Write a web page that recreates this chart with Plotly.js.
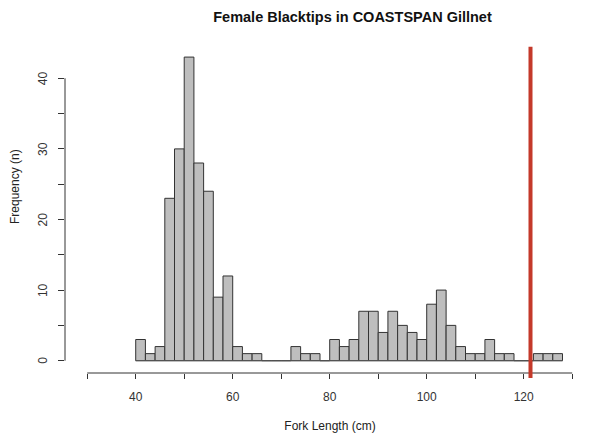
<!DOCTYPE html>
<html>
<head>
<meta charset="utf-8">
<script src="https://cdn.plot.ly/plotly-3.0.1.min.js"></script>
<style>html,body{margin:0;padding:0;background:#fff;}#chart{width:597px;height:439px;}</style>
</head>
<body>
<div id="chart"></div>
<script>
// Histogram bins (left edge of each 2-cm bin) and counts
const binLeft = [40,42,44,46,48,50,52,54,56,58,60,62,64,66,68,70,72,74,76,78,80,82,84,86,88,90,92,94,96,98,100,102,104,106,108,110,112,114,116,118,120,122,124,126];
const counts  = [3,1,2,23,30,43,28,24,9,12,2,1,1,0,0,0,2,1,1,0,3,2,3,7,7,4,7,5,4,3,8,10,5,2,1,1,3,1,1,0,0,1,1,1];
const binWidth = 2;
const cutoff = 121.4; // red reference line
const xTickVals = [30,40,50,60,70,80,90,100,110,120,130];
const xTickText = ['', '40', '', '60', '', '80', '', '100', '', '120', ''];
const yTickVals = [0,5,10,15,20,25,30,35,40];
const yTickText = ['0','','10','','20','','30','','40'];

const W = 597, H = 439;
const mL = 65, mR = 2, mT = 40, mB = 59;
const plotH = H - mT - mB;
const xAxisPos = (380 - 373) / plotH;

const lastEdge = binLeft[binLeft.length-1] + binWidth;

const traces = [
  {
    type: 'scatter', mode: 'lines',
    x: [binLeft[0], lastEdge], y: [0, 0],
    line: {color: '#555555', width: 1},
    hoverinfo: 'skip', showlegend: false
  },
  {
    type: 'bar',
    x: binLeft.map(v => v + binWidth/2),
    y: counts,
    width: binWidth,
    marker: {color: '#bebebe', line: {color: '#333333', width: 1}},
    showlegend: false
  }
];

// y tick labels drawn as rotated text next to the axis (R style)
const yLabelAnns = yTickVals.map((v, i) => ({
  xref: 'paper', yref: 'y', x: 0, y: v,
  xshift: -22, text: yTickText[i], showarrow: false, textangle: -90,
  xanchor: 'center', yanchor: 'middle',
  font: {size: 12, color: '#333333'}
})).filter(a => a.text !== '');

const layout = {
  width: W, height: H,
  margin: {l: mL, r: mR, t: mT, b: mB, pad: 0},
  paper_bgcolor: '#ffffff', plot_bgcolor: '#ffffff',
  font: {family: 'Liberation Sans, Arial, sans-serif', size: 12, color: '#222222'},
  title: {
    text: '<b>Female Blacktips in COASTSPAN Gillnet</b>',
    font: {size: 14.5, color: '#111111'},
    x: 352.5 / W, xanchor: 'center', xref: 'container',
    y: 1 - 17 / H, yanchor: 'middle', yref: 'container'
  },
  bargap: 0,
  xaxis: {
    range: [25.42, 134.70],
    anchor: 'free', position: xAxisPos,
    showgrid: false, zeroline: false, showline: false,
    tickmode: 'array', tickvals: xTickVals, ticktext: xTickText,
    ticks: 'outside', ticklen: 5, tickwidth: 1, tickcolor: '#333333',
    ticklabelstandoff: 8,
    tickfont: {size: 12, color: '#333333'},
    title: {text: 'Fork Length (cm)', font: {size: 12, color: '#222222'}, standoff: 18}
  },
  yaxis: {
    range: [-2.734, 45.42],
    showgrid: false, zeroline: false, showline: false,
    tickmode: 'array', tickvals: yTickVals, ticktext: yTickVals.map(() => ''),
    ticks: 'outside', ticklen: 6, tickwidth: 1, tickcolor: '#333333',
    tickfont: {size: 12, color: '#333333'}
  },
  annotations: yLabelAnns.concat([{
    xref: 'paper', yref: 'paper', x: 0, y: (380 - 187) / plotH,
    xshift: -50, text: 'Frequency (n)', showarrow: false, textangle: -90,
    xanchor: 'center', yanchor: 'middle',
    font: {size: 12, color: '#222222'}
  }]),
  shapes: [
    {type: 'line', xref: 'x', yref: 'paper', x0: xTickVals[0], x1: xTickVals[xTickVals.length-1], y0: xAxisPos, y1: xAxisPos, line: {color: '#333333', width: 1}},
    {type: 'line', xref: 'paper', yref: 'y', x0: 0, x1: 0, y0: yTickVals[0], y1: yTickVals[yTickVals.length-1], line: {color: '#333333', width: 1}},
    {type: 'line', xref: 'x', yref: 'y', x0: cutoff, x1: cutoff, y0: -2.45, y1: 44.48, line: {color: '#c4392a', width: 4}, layer: 'above'}
  ]
};

Plotly.newPlot('chart', traces, layout, {displayModeBar: false, staticPlot: true});
</script>
</body>
</html>
